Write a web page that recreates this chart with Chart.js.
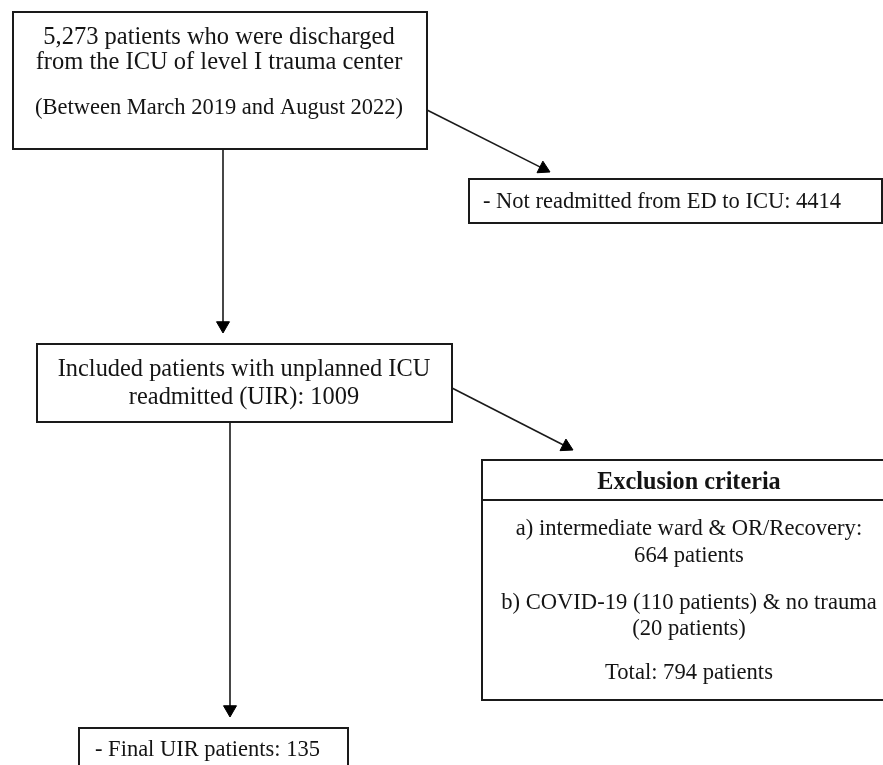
<!DOCTYPE html>
<html>
<head>
<meta charset="utf-8">
<script src="https://cdn.jsdelivr.net/npm/chart.js@4/dist/chart.umd.min.js"></script>
<style>
html,body{margin:0;padding:0;background:#fff;}
#wrap{width:883px;height:765px;}
</style>
</head>
<body>
<div id="wrap"><canvas id="c" width="883" height="765"></canvas></div>
<script>
// ---- Data (flow counts and texts) ----
const totalDischarged = 5273;
const notReadmitted = 4414;
const includedUIR = 1009;
const excludedWardOR = 664;
const excludedCovid = 110;
const excludedNoTrauma = 20;
const excludedTotal = 794;
const finalUIR = 135;

const box1Lines = ["5,273 patients who were discharged", "from the ICU of level I trauma center", "(Between March 2019 and August 2022)"];
const box2Lines = ["- Not readmitted from ED to ICU: 4414"];
const box3Lines = ["Included patients with unplanned ICU", "readmitted (UIR): 1009"];
const exclusionTitle = "Exclusion criteria";
const exclusionLines = ["a) intermediate ward & OR/Recovery:", "664 patients", "b) COVID-19 (110 patients) & no trauma", "(20 patients)", "Total: 794 patients"];
const finalLines = ["- Final UIR patients: 135"];

// ---- Layout (positions in diagram units, separate from data) ----
const layout = {
  box1: {x0: 13, y0: 12, x1: 427, y1: 149, lineY: [38, 63, 108], align: 'center', cx: 219, fs: [24.5, 24.5, 22.5]},
  box2: {x0: 469, y0: 179, x1: 882, y1: 223, lineY: [202], align: 'left', lx: 483, fs: [22.5]},
  box3: {x0: 37, y0: 344, x1: 452, y1: 422, lineY: [370, 398], align: 'center', cx: 244, fs: [24.4, 24.4]},
  excl: {x0: 482, y0: 460, x1: 900, y1: 700, headerY: 500, titleY: 483, lineY: [529, 556, 603, 629, 673], cx: 689, fs: 22.6, tfs: 24.2},
  fin:  {x0: 79, y0: 728, x1: 348, y1: 790, lineY: [750], align: 'left', lx: 95, fs: [22.5]},
  arrows: [
    [[223, 149], [223, 333]],
    [[427, 110], [550, 172]],
    [[452, 388], [573, 450]],
    [[230, 422], [230, 717]]
  ]
};
const FONT = '"Liberation Serif", "Times New Roman", serif';
const HEAD_R = 7.5;

function arrowDataset(seg) {
  const [a, b] = seg;
  const dx = b[0] - a[0], dy = b[1] - a[1];
  const len = Math.hypot(dx, dy);
  const ux = dx / len, uy = dy / len;
  const end = {x: b[0] - ux * HEAD_R, y: b[1] - uy * HEAD_R};
  const rot = Math.atan2(dy, dx) * 180 / Math.PI + 90;
  return {
    type: 'line',
    data: [{x: a[0], y: a[1]}, end],
    borderColor: '#1a1a1a',
    backgroundColor: '#000',
    borderWidth: 1.6,
    pointStyle: 'triangle',
    pointRadius: [0, HEAD_R],
    pointHoverRadius: [0, HEAD_R],
    pointRotation: rot,
    pointBorderWidth: 1,
    pointBorderColor: '#000',
    pointBackgroundColor: '#000',
    clip: false,
    tension: 0
  };
}

const boxPlugin = {
  id: 'boxes',
  beforeDatasetsDraw(chart) {
    const ctx = chart.ctx;
    const xs = chart.scales.x, ys = chart.scales.y;
    const X = v => xs.getPixelForValue(v);
    const Y = v => ys.getPixelForValue(v);
    ctx.save();
    ctx.strokeStyle = '#1a1a1a';
    ctx.lineWidth = 2;
    ctx.fillStyle = '#141414';
    ctx.textBaseline = 'middle';

    function drawBox(b, lines) {
      ctx.strokeRect(X(b.x0), Y(b.y0), X(b.x1) - X(b.x0), Y(b.y1) - Y(b.y0));
      lines.forEach((t, i) => {
        ctx.font = b.fs[i] + 'px ' + FONT;
        if (b.align === 'left') { ctx.textAlign = 'left'; ctx.fillText(t, X(b.lx), Y(b.lineY[i])); }
        else { ctx.textAlign = 'center'; ctx.fillText(t, X(b.cx), Y(b.lineY[i])); }
      });
    }
    drawBox(layout.box1, box1Lines);
    drawBox(layout.box2, box2Lines);
    drawBox(layout.box3, box3Lines);
    drawBox(layout.fin, finalLines);

    const e = layout.excl;
    ctx.strokeRect(X(e.x0), Y(e.y0), X(e.x1) - X(e.x0), Y(e.y1) - Y(e.y0));
    ctx.beginPath();
    ctx.moveTo(X(e.x0), Y(e.headerY));
    ctx.lineTo(X(e.x1), Y(e.headerY));
    ctx.stroke();
    ctx.textAlign = 'center';
    ctx.font = 'bold ' + e.tfs + 'px ' + FONT;
    ctx.fillText(exclusionTitle, X(e.cx), Y(e.titleY));
    ctx.font = e.fs + 'px ' + FONT;
    exclusionLines.forEach((t, i) => ctx.fillText(t, X(e.cx), Y(e.lineY[i])));
    ctx.restore();
  }
};

new Chart(document.getElementById('c'), {
  type: 'scatter',
  data: { datasets: layout.arrows.map(arrowDataset) },
  options: {
    responsive: false,
    animation: false,
    events: [],
    layout: { padding: 0, autoPadding: false },
    plugins: { legend: { display: false }, tooltip: { enabled: false } },
    scales: {
      x: { type: 'linear', min: 0, max: 883, display: false },
      y: { type: 'linear', min: 0, max: 765, reverse: true, display: false }
    }
  },
  plugins: [boxPlugin]
});
</script>
</body>
</html>
